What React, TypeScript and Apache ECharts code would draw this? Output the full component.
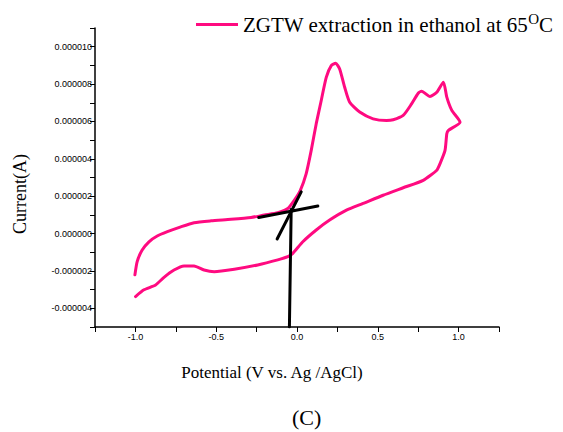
import React, { useEffect, useRef } from "react";
import * as echarts from "echarts";

// Potential (V) and current (µA) of the cyclic voltammogram, in drawing order
const potential = [
  -1.003, -0.989, -0.958, -0.916, -0.865, -0.802, -0.719, -0.637, -0.533, -0.409,
  -0.284, -0.202, -0.119, -0.057, -0.016, 0.02, 0.057, 0.088, 0.119, 0.15,
  0.181, 0.212, 0.239, 0.264, 0.295, 0.326, 0.388, 0.471, 0.554, 0.595,
  0.657, 0.709, 0.75, 0.771, 0.823, 0.865, 0.906, 0.927, 0.958, 1.009,
  0.937, 0.927, 0.916, 0.885, 0.865, 0.781, 0.657, 0.533, 0.409, 0.306,
  0.202, 0.119, 0.036, -0.026, -0.057, -0.119, -0.243, -0.388, -0.512, -0.575,
  -0.637, -0.699, -0.761, -0.823, -0.875, -0.947, -0.999,
];
const currentMicroA = [
  -2.21, -1.5, -0.88, -0.44, -0.13, 0.1, 0.36, 0.58, 0.68, 0.76,
  0.86, 0.99, 1.11, 1.34, 1.79, 2.3, 3.21, 4.45, 5.88, 7.12,
  8.36, 8.99, 9.11, 8.81, 7.83, 7.03, 6.5, 6.14, 6.05, 6.09,
  6.32, 6.94, 7.51, 7.62, 7.33, 7.56, 8.1, 7.3, 6.59, 5.96,
  5.52, 5.34, 4.45, 3.74, 3.39, 2.85, 2.45, 2.05, 1.61, 1.25,
  0.72, 0.19, -0.44, -1.06, -1.24, -1.41, -1.68, -1.91, -2.04, -1.95,
  -1.73, -1.73, -1.95, -2.34, -2.75, -3.01, -3.37,
];

// Hand-drawn tangent / construction lines (potential V, current µA)
const tangentBaseX = [-0.237, 0.129];
const tangentBaseY = [0.86, 1.47];
const tangentRiseX = [-0.123, 0.026];
const tangentRiseY = [-0.29, 2.23];
const onsetX = [-0.047, -0.036];
const onsetY = [-5, 1.29];

const seriesName = "ZGTW extraction in ethanol at 65°C";
const xTickLabels = ["-1.0", "-0.5", "0.0", "0.5", "1.0"];

const pairs = (xs: number[], ys: number[]) => xs.map((x, i) => [x, ys[i]]);

export default function App() {
  const ref = useRef<HTMLDivElement>(null);
  useEffect(() => {
    if (!ref.current) return;
    const chart = echarts.init(ref.current, undefined, { renderer: "svg" });
    const tickFont = {
      fontFamily: "'Liberation Sans Narrow', 'Arial Narrow', 'Liberation Sans', Arial, sans-serif",
      fontSize: 9,
      color: "#000",
    };
    const serif = "'Liberation Serif', 'Times New Roman', serif";
    const blackLine = (name: string, xs: number[], ys: number[]) => ({
      name,
      type: "line",
      data: pairs(xs, ys),
      showSymbol: false,
      symbol: "none",
      lineStyle: { color: "#000", width: 3, cap: "round" },
      z: 5,
    });
    chart.setOption({
      animation: false,
      backgroundColor: "#fff",
      title: {
        text: "(C)",
        left: 287,
        top: 401,
        textStyle: { fontFamily: serif, fontSize: 22, fontWeight: "normal", color: "#000" },
      },
      legend: {
        data: [seriesName],
        left: 191,
        top: 6,
        icon: "rect",
        itemWidth: 42,
        itemHeight: 3,
        formatter: () => "ZGTW extraction in ethanol at 65{sup|O}C",
        textStyle: {
          fontFamily: serif,
          fontSize: 21,
          color: "#000",
          rich: {
            sup: { fontFamily: serif, fontSize: 15, color: "#000", padding: [0, 0, 12, 0] },
          },
        },
      },
      grid: { left: 95, right: 64, top: 28, bottom: 105, containLabel: false },
      xAxis: {
        type: "value",
        min: -1.25,
        max: 1.25,
        interval: 0.25,
        name: "Potential (V vs. Ag /AgCl)",
        nameLocation: "middle",
        nameGap: 37,
        nameTextStyle: {
          fontFamily: serif,
          fontSize: 17,
          color: "#000",
          padding: [0, 50, 0, 0],
        },
        axisLine: { show: true, onZero: false, lineStyle: { color: "#000", width: 1.5 } },
        axisTick: { show: true, inside: false, length: 5, lineStyle: { color: "#000", width: 1 } },
        axisLabel: {
          ...tickFont,
          margin: 5,
          showMinLabel: true,
          showMaxLabel: true,
          formatter: (v: number) => {
            const s = v.toFixed(1);
            return xTickLabels.includes(s) && Math.abs(v * 2 - Math.round(v * 2)) < 1e-9 ? s : "";
          },
        },
        splitLine: { show: false },
      },
      yAxis: {
        type: "value",
        min: -5,
        max: 11,
        interval: 1,
        name: "Current(A)",
        nameLocation: "middle",
        nameGap: 66,
        nameTextStyle: {
          fontFamily: serif,
          fontSize: 18,
          color: "#000",
          padding: [0, 33, 0, 0],
        },
        axisLine: { show: true, onZero: false, lineStyle: { color: "#000", width: 1.5 } },
        axisTick: { show: true, inside: false, length: 5, lineStyle: { color: "#000", width: 1 } },
        axisLabel: {
          ...tickFont,
          margin: 3,
          padding: [0, 0, 6, 0],
          formatter: (v: number) => {
            const r = Math.round(v);
            return r % 2 === 0 && Math.abs(v - r) < 1e-9 ? (r * 1e-6).toFixed(6) : "";
          },
        },
        splitLine: { show: false },
      },
      series: [
        {
          name: seriesName,
          type: "line",
          data: pairs(potential, currentMicroA),
          showSymbol: false,
          symbol: "none",
          smooth: 0.2,
          color: "#ff0a80",
          lineStyle: { color: "#ff0a80", width: 3, cap: "round", join: "round" },
          z: 3,
        },
        blackLine("tangent (baseline)", tangentBaseX, tangentBaseY),
        blackLine("tangent (rise)", tangentRiseX, tangentRiseY),
        blackLine("onset potential", onsetX, onsetY),
      ],
    });
    return () => chart.dispose();
  }, []);
  return <div ref={ref} style={{ position: "fixed", left: 0, top: 0, width: 563, height: 432 }} />;
}
